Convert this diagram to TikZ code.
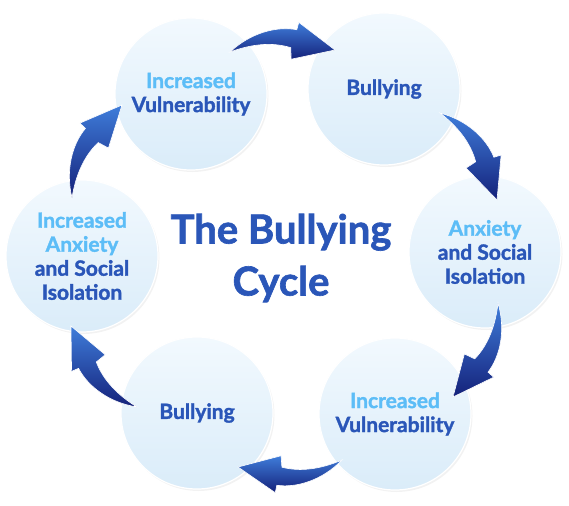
\documentclass[tikz,border=0pt]{standalone}
\usepackage{fontspec}
\setmainfont{Lato}[BoldFeatures={FakeBold=1.6}]
\usetikzlibrary{calc,shadows}

\definecolor{cycledark}{HTML}{2A56B8}
\definecolor{cyclelight}{HTML}{5CBDF7}
\definecolor{circletop}{HTML}{F2F9FE}
\definecolor{circlebottom}{HTML}{DAECF9}
\definecolor{arrowtop}{HTML}{3F7DDA}
\definecolor{arrowbottom}{HTML}{14217A}

\begin{document}
\begin{tikzpicture}[x=1pt,y=-1pt,
		stage/.style={circle, minimum size=152pt, inner sep=0pt, top color=circletop, bottom color=circlebottom, draw=white, line width=1.2pt, align=center, text=cycledark, font=\bfseries\fontsize{21}{24}\selectfont, drop shadow={opacity=0.10, shadow xshift=1.5pt, shadow yshift=-2pt}},
		swoosh/.style={top color=arrowtop, bottom color=arrowbottom, draw=white, line width=0.6pt}]
			\newcommand{\CycleArrow}[2]{
				\path[swoosh] let \p1 = ($(#2)-(#1)$), \p2 = ($(0,0)!1!90:(\x1,\y1)$) in
					(#1) .. controls ($(#1)!0.2!(#2)+0.18*(\p2)$) and ($(#1)!0.45!(#2)+0.24*(\p2)$) .. ($(#1)!0.64!(#2)+0.20*(\p2)$)
					-- ($(#1)!0.66!(#2)+0.27*(\p2)$) -- (#2) -- ($(#1)!0.58!(#2)-0.08*(\p2)$) -- ($(#1)!0.58!(#2)+0.03*(\p2)$)
					.. controls ($(#1)!0.4!(#2)+0.09*(\p2)$) and ($(#1)!0.2!(#2)+0.07*(\p2)$) .. (#1) -- cycle;
			}

			\useasboundingbox (0,0) rectangle (569,505);

			\node[stage] (vulnA) at (191,94) {{\color{cyclelight}Increased}\\Vulnerability};
			\node[stage] (bullyA) at (384,89) {Bullying};
			\node[stage] (anxR) at (485,252) {{\color{cyclelight}Anxiety}\\and Social\\Isolation};
			\node[stage] (vulnB) at (395,414) {{\color{cyclelight}Increased}\\Vulnerability};
			\node[stage] (bullyB) at (197,413) {Bullying};
			\node[stage] (anxL) at (82,256) {{\color{cyclelight}Increased}\\{\color{cyclelight}Anxiety}\\and Social\\Isolation};

			\node[text=cycledark, align=center, font=\bfseries\fontsize{40}{52}\selectfont] (title) at (281,258) {The Bullying\\Cycle};

			% tails and tips of the arrows
			\coordinate (s1) at ($(vulnA)+(39,-42)$);
			\coordinate (e1) at ($(bullyA)+(-49,-39)$);
			\coordinate (s2) at ($(bullyA)+(56,24)$);
			\coordinate (e2) at ($(anxR)+(12,-52)$);
			\coordinate (s3) at ($(anxR)+(13,51)$);
			\coordinate (e3) at ($(vulnB)+(58,-17)$);
			\coordinate (s4) at ($(vulnB)+(-53,46)$);
			\coordinate (e4) at ($(bullyB)+(41,54)$);
			\coordinate (s5) at ($(bullyB)+(-60,-6)$);
			\coordinate (e5) at ($(anxL)+(-11,70)$);
			\coordinate (s6) at ($(anxL)+(-10,-58)$);
			\coordinate (e6) at ($(vulnA)+(-69,11)$);

			\CycleArrow{s1}{e1}
			\CycleArrow{s2}{e2}
			\CycleArrow{s3}{e3}
			\CycleArrow{s4}{e4}
			\CycleArrow{s5}{e5}
			\CycleArrow{s6}{e6}
		\end{tikzpicture}
\end{document}
